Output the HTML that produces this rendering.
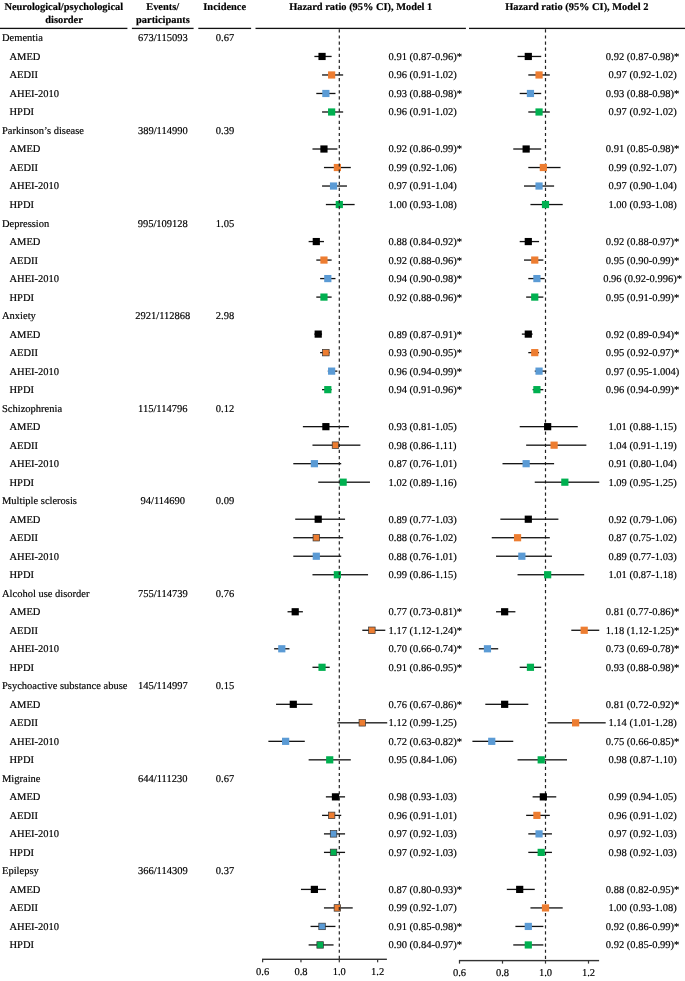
<!DOCTYPE html><html><head><meta charset="utf-8"><style>html,body{margin:0;padding:0;background:#fff;width:685px;height:981px;overflow:hidden;}svg{display:block;will-change:transform}text{font-family:"Liberation Serif",serif;fill:#000;stroke:#000;stroke-width:0.18px;text-rendering:geometricPrecision;}.b{font-weight:bold;}</style></head><body>
<svg width="685" height="981" viewBox="0 0 685 981">
<text x="63.80" y="10.40" font-size="10.4" text-anchor="middle" class="b">Neurological/psychological</text>
<text x="64.00" y="22.80" font-size="10.4" text-anchor="middle" class="b">disorder</text>
<text x="162.70" y="10.30" font-size="10.4" text-anchor="middle" class="b">Events/</text>
<text x="162.90" y="22.80" font-size="10.4" text-anchor="middle" class="b">participants</text>
<text x="224.70" y="10.30" font-size="10.4" text-anchor="middle" class="b">Incidence</text>
<text x="360.70" y="10.30" font-size="10.4" text-anchor="middle" class="b">Hazard ratio (95% CI), Model 1</text>
<text x="576.80" y="10.30" font-size="10.4" text-anchor="middle" class="b">Hazard ratio (95% CI), Model 2</text>
<rect x="0" y="27.75" width="127.40" height="1.3" fill="#111"/>
<rect x="131.9" y="27.75" width="61.70" height="1.3" fill="#111"/>
<rect x="198.3" y="27.75" width="52.80" height="1.3" fill="#111"/>
<rect x="255.5" y="27.75" width="210.40" height="1.3" fill="#111"/>
<rect x="469" y="27.75" width="216.00" height="1.3" fill="#111"/>
<line x1="545.5" y1="29.3" x2="545.5" y2="960.6" stroke="#222" stroke-width="1.2" stroke-dasharray="3.2 2.895"/>
<text x="2.00" y="41.40" font-size="10.5" text-anchor="start">Dementia</text>
<text x="162.80" y="41.40" font-size="10.5" text-anchor="middle">673/115093</text>
<text x="225.00" y="41.40" font-size="10.5" text-anchor="middle">0.67</text>
<text x="9.50" y="59.91" font-size="10.5" text-anchor="start">AMED</text>
<text x="388.60" y="59.91" font-size="10.5" text-anchor="start">0.91 (0.87-0.96)*</text>
<text x="642.60" y="59.91" font-size="10.5" text-anchor="middle">0.92 (0.87-0.98)*</text>
<rect x="314.38" y="55.81" width="17.25" height="1.3" fill="#111"/>
<rect x="318.45" y="52.86" width="7.2" height="7.2" fill="#000000"/>
<rect x="517.55" y="55.81" width="23.65" height="1.3" fill="#111"/>
<rect x="524.70" y="52.86" width="7.2" height="7.2" fill="#000000"/>
<text x="9.50" y="78.42" font-size="10.5" text-anchor="start">AEDII</text>
<text x="388.60" y="78.42" font-size="10.5" text-anchor="start">0.96 (0.91-1.02)</text>
<text x="642.60" y="78.42" font-size="10.5" text-anchor="middle">0.97 (0.92-1.02)</text>
<rect x="322.05" y="74.32" width="21.09" height="1.3" fill="#111"/>
<rect x="328.03" y="71.37" width="7.2" height="7.2" fill="#ED7D31"/>
<rect x="528.30" y="74.32" width="21.50" height="1.3" fill="#111"/>
<rect x="535.45" y="71.37" width="7.2" height="7.2" fill="#ED7D31"/>
<text x="9.50" y="96.93" font-size="10.5" text-anchor="start">AHEI-2010</text>
<text x="388.60" y="96.93" font-size="10.5" text-anchor="start">0.93 (0.88-0.98)*</text>
<text x="642.60" y="96.93" font-size="10.5" text-anchor="middle">0.93 (0.88-0.98)*</text>
<rect x="316.30" y="92.83" width="19.17" height="1.3" fill="#111"/>
<rect x="322.28" y="89.88" width="7.2" height="7.2" fill="#5B9BD5"/>
<rect x="519.70" y="92.83" width="21.50" height="1.3" fill="#111"/>
<rect x="526.85" y="89.88" width="7.2" height="7.2" fill="#5B9BD5"/>
<text x="9.50" y="115.44" font-size="10.5" text-anchor="start">HPDI</text>
<text x="388.60" y="115.44" font-size="10.5" text-anchor="start">0.96 (0.91-1.02)</text>
<text x="642.60" y="115.44" font-size="10.5" text-anchor="middle">0.97 (0.92-1.02)</text>
<rect x="322.05" y="111.34" width="21.09" height="1.3" fill="#111"/>
<rect x="328.03" y="108.39" width="7.2" height="7.2" fill="#00B050"/>
<rect x="528.30" y="111.34" width="21.50" height="1.3" fill="#111"/>
<rect x="535.45" y="108.39" width="7.2" height="7.2" fill="#00B050"/>
<text x="2.00" y="133.95" font-size="10.5" text-anchor="start">Parkinson’s disease</text>
<text x="162.80" y="133.95" font-size="10.5" text-anchor="middle">389/114990</text>
<text x="225.00" y="133.95" font-size="10.5" text-anchor="middle">0.39</text>
<text x="9.50" y="152.46" font-size="10.5" text-anchor="start">AMED</text>
<text x="388.60" y="152.46" font-size="10.5" text-anchor="start">0.92 (0.86-0.99)*</text>
<text x="642.60" y="152.46" font-size="10.5" text-anchor="middle">0.91 (0.85-0.98)*</text>
<rect x="312.46" y="148.36" width="24.92" height="1.3" fill="#111"/>
<rect x="320.36" y="145.41" width="7.2" height="7.2" fill="#000000"/>
<rect x="513.25" y="148.36" width="27.95" height="1.3" fill="#111"/>
<rect x="522.55" y="145.41" width="7.2" height="7.2" fill="#000000"/>
<text x="9.50" y="170.97" font-size="10.5" text-anchor="start">AEDII</text>
<text x="388.60" y="170.97" font-size="10.5" text-anchor="start">0.99 (0.92-1.06)</text>
<text x="642.60" y="170.97" font-size="10.5" text-anchor="middle">0.99 (0.92-1.07)</text>
<rect x="323.96" y="166.87" width="26.84" height="1.3" fill="#111"/>
<rect x="333.78" y="163.92" width="7.2" height="7.2" fill="#ED7D31"/>
<rect x="528.30" y="166.87" width="32.25" height="1.3" fill="#111"/>
<rect x="539.75" y="163.92" width="7.2" height="7.2" fill="#ED7D31"/>
<text x="9.50" y="189.48" font-size="10.5" text-anchor="start">AHEI-2010</text>
<text x="388.60" y="189.48" font-size="10.5" text-anchor="start">0.97 (0.91-1.04)</text>
<text x="642.60" y="189.48" font-size="10.5" text-anchor="middle">0.97 (0.90-1.04)</text>
<rect x="322.05" y="185.38" width="24.92" height="1.3" fill="#111"/>
<rect x="329.95" y="182.43" width="7.2" height="7.2" fill="#5B9BD5"/>
<rect x="524.00" y="185.38" width="30.10" height="1.3" fill="#111"/>
<rect x="535.45" y="182.43" width="7.2" height="7.2" fill="#5B9BD5"/>
<text x="9.50" y="207.99" font-size="10.5" text-anchor="start">HPDI</text>
<text x="388.60" y="207.99" font-size="10.5" text-anchor="start">1.00 (0.93-1.08)</text>
<text x="642.60" y="207.99" font-size="10.5" text-anchor="middle">1.00 (0.93-1.08)</text>
<rect x="325.88" y="203.89" width="28.75" height="1.3" fill="#111"/>
<rect x="335.70" y="200.94" width="7.2" height="7.2" fill="#00B050"/>
<rect x="530.45" y="203.89" width="32.25" height="1.3" fill="#111"/>
<rect x="541.90" y="200.94" width="7.2" height="7.2" fill="#00B050"/>
<text x="2.00" y="226.50" font-size="10.5" text-anchor="start">Depression</text>
<text x="162.80" y="226.50" font-size="10.5" text-anchor="middle">995/109128</text>
<text x="225.00" y="226.50" font-size="10.5" text-anchor="middle">1.05</text>
<text x="9.50" y="245.01" font-size="10.5" text-anchor="start">AMED</text>
<text x="388.60" y="245.01" font-size="10.5" text-anchor="start">0.88 (0.84-0.92)*</text>
<text x="642.60" y="245.01" font-size="10.5" text-anchor="middle">0.92 (0.88-0.97)*</text>
<rect x="308.63" y="240.91" width="15.34" height="1.3" fill="#111"/>
<rect x="312.70" y="237.96" width="7.2" height="7.2" fill="#000000"/>
<rect x="519.70" y="240.91" width="19.35" height="1.3" fill="#111"/>
<rect x="524.70" y="237.96" width="7.2" height="7.2" fill="#000000"/>
<text x="9.50" y="263.52" font-size="10.5" text-anchor="start">AEDII</text>
<text x="388.60" y="263.52" font-size="10.5" text-anchor="start">0.92 (0.88-0.96)*</text>
<text x="642.60" y="263.52" font-size="10.5" text-anchor="middle">0.95 (0.90-0.99)*</text>
<rect x="316.30" y="259.42" width="15.34" height="1.3" fill="#111"/>
<rect x="320.36" y="256.47" width="7.2" height="7.2" fill="#ED7D31"/>
<rect x="524.00" y="259.42" width="19.35" height="1.3" fill="#111"/>
<rect x="531.15" y="256.47" width="7.2" height="7.2" fill="#ED7D31"/>
<text x="9.50" y="282.03" font-size="10.5" text-anchor="start">AHEI-2010</text>
<text x="388.60" y="282.03" font-size="10.5" text-anchor="start">0.94 (0.90-0.98)*</text>
<text x="642.60" y="282.03" font-size="10.5" text-anchor="middle">0.96 (0.92-0.996)*</text>
<rect x="320.13" y="277.93" width="15.34" height="1.3" fill="#111"/>
<rect x="324.20" y="274.98" width="7.2" height="7.2" fill="#5B9BD5"/>
<rect x="528.30" y="277.93" width="16.34" height="1.3" fill="#111"/>
<rect x="533.30" y="274.98" width="7.2" height="7.2" fill="#5B9BD5"/>
<text x="9.50" y="300.54" font-size="10.5" text-anchor="start">HPDI</text>
<text x="388.60" y="300.54" font-size="10.5" text-anchor="start">0.92 (0.88-0.96)*</text>
<text x="642.60" y="300.54" font-size="10.5" text-anchor="middle">0.95 (0.91-0.99)*</text>
<rect x="316.30" y="296.44" width="15.34" height="1.3" fill="#111"/>
<rect x="320.36" y="293.49" width="7.2" height="7.2" fill="#00B050"/>
<rect x="526.15" y="296.44" width="17.20" height="1.3" fill="#111"/>
<rect x="531.15" y="293.49" width="7.2" height="7.2" fill="#00B050"/>
<text x="2.00" y="319.05" font-size="10.5" text-anchor="start">Anxiety</text>
<text x="162.80" y="319.05" font-size="10.5" text-anchor="middle">2921/112868</text>
<text x="225.00" y="319.05" font-size="10.5" text-anchor="middle">2.98</text>
<text x="9.50" y="337.56" font-size="10.5" text-anchor="start">AMED</text>
<text x="388.60" y="337.56" font-size="10.5" text-anchor="start">0.89 (0.87-0.91)*</text>
<text x="642.60" y="337.56" font-size="10.5" text-anchor="middle">0.92 (0.89-0.94)*</text>
<rect x="314.38" y="333.46" width="7.67" height="1.3" fill="#111"/>
<rect x="314.61" y="330.51" width="7.2" height="7.2" fill="#000000"/>
<rect x="521.85" y="333.46" width="10.75" height="1.3" fill="#111"/>
<rect x="524.70" y="330.51" width="7.2" height="7.2" fill="#000000"/>
<text x="9.50" y="356.07" font-size="10.5" text-anchor="start">AEDII</text>
<text x="388.60" y="356.07" font-size="10.5" text-anchor="start">0.93 (0.90-0.95)*</text>
<text x="642.60" y="356.07" font-size="10.5" text-anchor="middle">0.95 (0.92-0.97)*</text>
<rect x="320.13" y="351.97" width="9.59" height="1.3" fill="#111"/>
<rect x="322.63" y="349.37" width="6.50" height="6.50" fill="#ED7D31" stroke="#333" stroke-width="0.7"/>
<rect x="528.30" y="351.97" width="10.75" height="1.3" fill="#111"/>
<rect x="531.15" y="349.02" width="7.2" height="7.2" fill="#ED7D31"/>
<text x="9.50" y="374.58" font-size="10.5" text-anchor="start">AHEI-2010</text>
<text x="388.60" y="374.58" font-size="10.5" text-anchor="start">0.96 (0.94-0.99)*</text>
<text x="642.60" y="374.58" font-size="10.5" text-anchor="middle">0.97 (0.95-1.004)</text>
<rect x="327.80" y="370.48" width="9.59" height="1.3" fill="#111"/>
<rect x="328.03" y="367.53" width="7.2" height="7.2" fill="#5B9BD5"/>
<rect x="534.75" y="370.48" width="11.61" height="1.3" fill="#111"/>
<rect x="535.45" y="367.53" width="7.2" height="7.2" fill="#5B9BD5"/>
<text x="9.50" y="393.09" font-size="10.5" text-anchor="start">HPDI</text>
<text x="388.60" y="393.09" font-size="10.5" text-anchor="start">0.94 (0.91-0.96)*</text>
<text x="642.60" y="393.09" font-size="10.5" text-anchor="middle">0.96 (0.94-0.99)*</text>
<rect x="322.05" y="388.99" width="9.58" height="1.3" fill="#111"/>
<rect x="324.20" y="386.04" width="7.2" height="7.2" fill="#00B050"/>
<rect x="532.60" y="388.99" width="10.75" height="1.3" fill="#111"/>
<rect x="533.30" y="386.04" width="7.2" height="7.2" fill="#00B050"/>
<text x="2.00" y="411.60" font-size="10.5" text-anchor="start">Schizophrenia</text>
<text x="162.80" y="411.60" font-size="10.5" text-anchor="middle">115/114796</text>
<text x="225.00" y="411.60" font-size="10.5" text-anchor="middle">0.12</text>
<text x="9.50" y="430.11" font-size="10.5" text-anchor="start">AMED</text>
<text x="388.60" y="430.11" font-size="10.5" text-anchor="start">0.93 (0.81-1.05)</text>
<text x="642.60" y="430.11" font-size="10.5" text-anchor="middle">1.01 (0.88-1.15)</text>
<rect x="302.88" y="426.01" width="46.01" height="1.3" fill="#111"/>
<rect x="322.28" y="423.06" width="7.2" height="7.2" fill="#000000"/>
<rect x="519.70" y="426.01" width="58.05" height="1.3" fill="#111"/>
<rect x="544.05" y="423.06" width="7.2" height="7.2" fill="#000000"/>
<text x="9.50" y="448.62" font-size="10.5" text-anchor="start">AEDII</text>
<text x="388.60" y="448.62" font-size="10.5" text-anchor="start">0.98 (0.86-1.11)</text>
<text x="642.60" y="448.62" font-size="10.5" text-anchor="middle">1.04 (0.91-1.19)</text>
<rect x="312.46" y="444.52" width="47.93" height="1.3" fill="#111"/>
<rect x="332.22" y="441.92" width="6.50" height="6.50" fill="#ED7D31" stroke="#333" stroke-width="0.7"/>
<rect x="526.15" y="444.52" width="60.20" height="1.3" fill="#111"/>
<rect x="550.50" y="441.57" width="7.2" height="7.2" fill="#ED7D31"/>
<text x="9.50" y="467.13" font-size="10.5" text-anchor="start">AHEI-2010</text>
<text x="388.60" y="467.13" font-size="10.5" text-anchor="start">0.87 (0.76-1.01)</text>
<text x="642.60" y="467.13" font-size="10.5" text-anchor="middle">0.91 (0.80-1.04)</text>
<rect x="293.29" y="463.03" width="47.92" height="1.3" fill="#111"/>
<rect x="310.78" y="460.08" width="7.2" height="7.2" fill="#5B9BD5"/>
<rect x="502.50" y="463.03" width="51.60" height="1.3" fill="#111"/>
<rect x="522.55" y="460.08" width="7.2" height="7.2" fill="#5B9BD5"/>
<text x="9.50" y="485.64" font-size="10.5" text-anchor="start">HPDI</text>
<text x="388.60" y="485.64" font-size="10.5" text-anchor="start">1.02 (0.89-1.16)</text>
<text x="642.60" y="485.64" font-size="10.5" text-anchor="middle">1.09 (0.95-1.25)</text>
<rect x="318.21" y="481.54" width="51.76" height="1.3" fill="#111"/>
<rect x="339.53" y="478.59" width="7.2" height="7.2" fill="#00B050"/>
<rect x="534.75" y="481.54" width="64.50" height="1.3" fill="#111"/>
<rect x="561.25" y="478.59" width="7.2" height="7.2" fill="#00B050"/>
<text x="2.00" y="504.15" font-size="10.5" text-anchor="start">Multiple sclerosis</text>
<text x="162.80" y="504.15" font-size="10.5" text-anchor="middle">94/114690</text>
<text x="225.00" y="504.15" font-size="10.5" text-anchor="middle">0.09</text>
<text x="9.50" y="522.66" font-size="10.5" text-anchor="start">AMED</text>
<text x="388.60" y="522.66" font-size="10.5" text-anchor="start">0.89 (0.77-1.03)</text>
<text x="642.60" y="522.66" font-size="10.5" text-anchor="middle">0.92 (0.79-1.06)</text>
<rect x="295.21" y="518.56" width="49.84" height="1.3" fill="#111"/>
<rect x="314.61" y="515.61" width="7.2" height="7.2" fill="#000000"/>
<rect x="500.35" y="518.56" width="58.05" height="1.3" fill="#111"/>
<rect x="524.70" y="515.61" width="7.2" height="7.2" fill="#000000"/>
<text x="9.50" y="541.17" font-size="10.5" text-anchor="start">AEDII</text>
<text x="388.60" y="541.17" font-size="10.5" text-anchor="start">0.88 (0.76-1.02)</text>
<text x="642.60" y="541.17" font-size="10.5" text-anchor="middle">0.87 (0.75-1.02)</text>
<rect x="293.29" y="537.07" width="49.84" height="1.3" fill="#111"/>
<rect x="313.05" y="534.47" width="6.50" height="6.50" fill="#ED7D31" stroke="#333" stroke-width="0.7"/>
<rect x="491.75" y="537.07" width="58.05" height="1.3" fill="#111"/>
<rect x="513.95" y="534.12" width="7.2" height="7.2" fill="#ED7D31"/>
<text x="9.50" y="559.68" font-size="10.5" text-anchor="start">AHEI-2010</text>
<text x="388.60" y="559.68" font-size="10.5" text-anchor="start">0.88 (0.76-1.01)</text>
<text x="642.60" y="559.68" font-size="10.5" text-anchor="middle">0.89 (0.77-1.03)</text>
<rect x="293.29" y="555.58" width="47.92" height="1.3" fill="#111"/>
<rect x="312.70" y="552.63" width="7.2" height="7.2" fill="#5B9BD5"/>
<rect x="496.05" y="555.58" width="55.90" height="1.3" fill="#111"/>
<rect x="518.25" y="552.63" width="7.2" height="7.2" fill="#5B9BD5"/>
<text x="9.50" y="578.19" font-size="10.5" text-anchor="start">HPDI</text>
<text x="388.60" y="578.19" font-size="10.5" text-anchor="start">0.99 (0.86-1.15)</text>
<text x="642.60" y="578.19" font-size="10.5" text-anchor="middle">1.01 (0.87-1.18)</text>
<rect x="312.46" y="574.09" width="55.59" height="1.3" fill="#111"/>
<rect x="333.78" y="571.14" width="7.2" height="7.2" fill="#00B050"/>
<rect x="517.55" y="574.09" width="66.65" height="1.3" fill="#111"/>
<rect x="544.05" y="571.14" width="7.2" height="7.2" fill="#00B050"/>
<text x="2.00" y="596.70" font-size="10.5" text-anchor="start">Alcohol use disorder</text>
<text x="162.80" y="596.70" font-size="10.5" text-anchor="middle">755/114739</text>
<text x="225.00" y="596.70" font-size="10.5" text-anchor="middle">0.76</text>
<text x="9.50" y="615.21" font-size="10.5" text-anchor="start">AMED</text>
<text x="388.60" y="615.21" font-size="10.5" text-anchor="start">0.77 (0.73-0.81)*</text>
<text x="642.60" y="615.21" font-size="10.5" text-anchor="middle">0.81 (0.77-0.86)*</text>
<rect x="287.54" y="611.11" width="15.34" height="1.3" fill="#111"/>
<rect x="291.61" y="608.16" width="7.2" height="7.2" fill="#000000"/>
<rect x="496.05" y="611.11" width="19.35" height="1.3" fill="#111"/>
<rect x="501.05" y="608.16" width="7.2" height="7.2" fill="#000000"/>
<text x="9.50" y="633.72" font-size="10.5" text-anchor="start">AEDII</text>
<text x="388.60" y="633.72" font-size="10.5" text-anchor="start">1.17 (1.12-1.24)*</text>
<text x="642.60" y="633.72" font-size="10.5" text-anchor="middle">1.18 (1.12-1.25)*</text>
<rect x="362.30" y="629.62" width="23.00" height="1.3" fill="#111"/>
<rect x="368.64" y="627.02" width="6.50" height="6.50" fill="#ED7D31" stroke="#333" stroke-width="0.7"/>
<rect x="571.30" y="629.62" width="27.95" height="1.3" fill="#111"/>
<rect x="580.60" y="626.67" width="7.2" height="7.2" fill="#ED7D31"/>
<text x="9.50" y="652.23" font-size="10.5" text-anchor="start">AHEI-2010</text>
<text x="388.60" y="652.23" font-size="10.5" text-anchor="start">0.70 (0.66-0.74)*</text>
<text x="642.60" y="652.23" font-size="10.5" text-anchor="middle">0.73 (0.69-0.78)*</text>
<rect x="274.12" y="648.13" width="15.34" height="1.3" fill="#111"/>
<rect x="278.19" y="645.18" width="7.2" height="7.2" fill="#5B9BD5"/>
<rect x="478.85" y="648.13" width="19.35" height="1.3" fill="#111"/>
<rect x="483.85" y="645.18" width="7.2" height="7.2" fill="#5B9BD5"/>
<text x="9.50" y="670.74" font-size="10.5" text-anchor="start">HPDI</text>
<text x="388.60" y="670.74" font-size="10.5" text-anchor="start">0.91 (0.86-0.95)*</text>
<text x="642.60" y="670.74" font-size="10.5" text-anchor="middle">0.93 (0.88-0.98)*</text>
<rect x="312.46" y="666.64" width="17.25" height="1.3" fill="#111"/>
<rect x="318.45" y="663.69" width="7.2" height="7.2" fill="#00B050"/>
<rect x="519.70" y="666.64" width="21.50" height="1.3" fill="#111"/>
<rect x="526.85" y="663.69" width="7.2" height="7.2" fill="#00B050"/>
<text x="2.00" y="689.25" font-size="10.5" text-anchor="start">Psychoactive substance abuse</text>
<text x="162.80" y="689.25" font-size="10.5" text-anchor="middle">145/114997</text>
<text x="225.00" y="689.25" font-size="10.5" text-anchor="middle">0.15</text>
<text x="9.50" y="707.76" font-size="10.5" text-anchor="start">AMED</text>
<text x="388.60" y="707.76" font-size="10.5" text-anchor="start">0.76 (0.67-0.86)*</text>
<text x="642.60" y="707.76" font-size="10.5" text-anchor="middle">0.81 (0.72-0.92)*</text>
<rect x="276.04" y="703.66" width="36.42" height="1.3" fill="#111"/>
<rect x="289.69" y="700.71" width="7.2" height="7.2" fill="#000000"/>
<rect x="485.30" y="703.66" width="43.00" height="1.3" fill="#111"/>
<rect x="501.05" y="700.71" width="7.2" height="7.2" fill="#000000"/>
<text x="9.50" y="726.27" font-size="10.5" text-anchor="start">AEDII</text>
<text x="388.60" y="726.27" font-size="10.5" text-anchor="start">1.12 (0.99-1.25)</text>
<text x="642.60" y="726.27" font-size="10.5" text-anchor="middle">1.14 (1.01-1.28)</text>
<rect x="337.38" y="722.17" width="49.84" height="1.3" fill="#111"/>
<rect x="359.05" y="719.57" width="6.50" height="6.50" fill="#ED7D31" stroke="#333" stroke-width="0.7"/>
<rect x="547.65" y="722.17" width="58.05" height="1.3" fill="#111"/>
<rect x="572.00" y="719.22" width="7.2" height="7.2" fill="#ED7D31"/>
<text x="9.50" y="744.78" font-size="10.5" text-anchor="start">AHEI-2010</text>
<text x="388.60" y="744.78" font-size="10.5" text-anchor="start">0.72 (0.63-0.82)*</text>
<text x="642.60" y="744.78" font-size="10.5" text-anchor="middle">0.75 (0.66-0.85)*</text>
<rect x="268.37" y="740.68" width="36.42" height="1.3" fill="#111"/>
<rect x="282.02" y="737.73" width="7.2" height="7.2" fill="#5B9BD5"/>
<rect x="472.40" y="740.68" width="40.85" height="1.3" fill="#111"/>
<rect x="488.15" y="737.73" width="7.2" height="7.2" fill="#5B9BD5"/>
<text x="9.50" y="763.29" font-size="10.5" text-anchor="start">HPDI</text>
<text x="388.60" y="763.29" font-size="10.5" text-anchor="start">0.95 (0.84-1.06)</text>
<text x="642.60" y="763.29" font-size="10.5" text-anchor="middle">0.98 (0.87-1.10)</text>
<rect x="308.63" y="759.19" width="42.17" height="1.3" fill="#111"/>
<rect x="326.12" y="756.24" width="7.2" height="7.2" fill="#00B050"/>
<rect x="517.55" y="759.19" width="49.45" height="1.3" fill="#111"/>
<rect x="537.60" y="756.24" width="7.2" height="7.2" fill="#00B050"/>
<text x="2.00" y="781.80" font-size="10.5" text-anchor="start">Migraine</text>
<text x="162.80" y="781.80" font-size="10.5" text-anchor="middle">644/111230</text>
<text x="225.00" y="781.80" font-size="10.5" text-anchor="middle">0.67</text>
<text x="9.50" y="800.31" font-size="10.5" text-anchor="start">AMED</text>
<text x="388.60" y="800.31" font-size="10.5" text-anchor="start">0.98 (0.93-1.03)</text>
<text x="642.60" y="800.31" font-size="10.5" text-anchor="middle">0.99 (0.94-1.05)</text>
<rect x="325.88" y="796.21" width="19.17" height="1.3" fill="#111"/>
<rect x="331.87" y="793.26" width="7.2" height="7.2" fill="#000000"/>
<rect x="532.60" y="796.21" width="23.65" height="1.3" fill="#111"/>
<rect x="539.75" y="793.26" width="7.2" height="7.2" fill="#000000"/>
<text x="9.50" y="818.82" font-size="10.5" text-anchor="start">AEDII</text>
<text x="388.60" y="818.82" font-size="10.5" text-anchor="start">0.96 (0.91-1.01)</text>
<text x="642.60" y="818.82" font-size="10.5" text-anchor="middle">0.96 (0.91-1.02)</text>
<rect x="322.05" y="814.72" width="19.17" height="1.3" fill="#111"/>
<rect x="328.38" y="812.12" width="6.50" height="6.50" fill="#ED7D31" stroke="#333" stroke-width="0.7"/>
<rect x="526.15" y="814.72" width="23.65" height="1.3" fill="#111"/>
<rect x="533.30" y="811.77" width="7.2" height="7.2" fill="#ED7D31"/>
<text x="9.50" y="837.33" font-size="10.5" text-anchor="start">AHEI-2010</text>
<text x="388.60" y="837.33" font-size="10.5" text-anchor="start">0.97 (0.92-1.03)</text>
<text x="642.60" y="837.33" font-size="10.5" text-anchor="middle">0.97 (0.92-1.03)</text>
<rect x="323.96" y="833.23" width="21.09" height="1.3" fill="#111"/>
<rect x="330.30" y="830.63" width="6.50" height="6.50" fill="#5B9BD5" stroke="#333" stroke-width="0.7"/>
<rect x="528.30" y="833.23" width="23.65" height="1.3" fill="#111"/>
<rect x="535.45" y="830.28" width="7.2" height="7.2" fill="#5B9BD5"/>
<text x="9.50" y="855.84" font-size="10.5" text-anchor="start">HPDI</text>
<text x="388.60" y="855.84" font-size="10.5" text-anchor="start">0.97 (0.92-1.03)</text>
<text x="642.60" y="855.84" font-size="10.5" text-anchor="middle">0.98 (0.92-1.03)</text>
<rect x="323.96" y="851.74" width="21.09" height="1.3" fill="#111"/>
<rect x="330.30" y="849.14" width="6.50" height="6.50" fill="#00B050" stroke="#333" stroke-width="0.7"/>
<rect x="528.30" y="851.74" width="23.65" height="1.3" fill="#111"/>
<rect x="537.60" y="848.79" width="7.2" height="7.2" fill="#00B050"/>
<text x="2.00" y="874.35" font-size="10.5" text-anchor="start">Epilepsy</text>
<text x="162.80" y="874.35" font-size="10.5" text-anchor="middle">366/114309</text>
<text x="225.00" y="874.35" font-size="10.5" text-anchor="middle">0.37</text>
<text x="9.50" y="892.86" font-size="10.5" text-anchor="start">AMED</text>
<text x="388.60" y="892.86" font-size="10.5" text-anchor="start">0.87 (0.80-0.93)*</text>
<text x="642.60" y="892.86" font-size="10.5" text-anchor="middle">0.88 (0.82-0.95)*</text>
<rect x="300.96" y="888.76" width="24.92" height="1.3" fill="#111"/>
<rect x="310.78" y="885.81" width="7.2" height="7.2" fill="#000000"/>
<rect x="506.80" y="888.76" width="27.95" height="1.3" fill="#111"/>
<rect x="516.10" y="885.81" width="7.2" height="7.2" fill="#000000"/>
<text x="9.50" y="911.37" font-size="10.5" text-anchor="start">AEDII</text>
<text x="388.60" y="911.37" font-size="10.5" text-anchor="start">0.99 (0.92-1.07)</text>
<text x="642.60" y="911.37" font-size="10.5" text-anchor="middle">1.00 (0.93-1.08)</text>
<rect x="323.96" y="907.27" width="28.76" height="1.3" fill="#111"/>
<rect x="334.13" y="904.67" width="6.50" height="6.50" fill="#ED7D31" stroke="#333" stroke-width="0.7"/>
<rect x="530.45" y="907.27" width="32.25" height="1.3" fill="#111"/>
<rect x="541.90" y="904.32" width="7.2" height="7.2" fill="#ED7D31"/>
<text x="9.50" y="929.88" font-size="10.5" text-anchor="start">AHEI-2010</text>
<text x="388.60" y="929.88" font-size="10.5" text-anchor="start">0.91 (0.85-0.98)*</text>
<text x="642.60" y="929.88" font-size="10.5" text-anchor="middle">0.92 (0.86-0.99)*</text>
<rect x="310.55" y="925.78" width="24.92" height="1.3" fill="#111"/>
<rect x="318.80" y="923.18" width="6.50" height="6.50" fill="#5B9BD5" stroke="#333" stroke-width="0.7"/>
<rect x="515.40" y="925.78" width="27.95" height="1.3" fill="#111"/>
<rect x="524.70" y="922.83" width="7.2" height="7.2" fill="#5B9BD5"/>
<text x="9.50" y="948.39" font-size="10.5" text-anchor="start">HPDI</text>
<text x="388.60" y="948.39" font-size="10.5" text-anchor="start">0.90 (0.84-0.97)*</text>
<text x="642.60" y="948.39" font-size="10.5" text-anchor="middle">0.92 (0.85-0.99)*</text>
<rect x="308.63" y="944.29" width="24.92" height="1.3" fill="#111"/>
<rect x="316.88" y="941.69" width="6.50" height="6.50" fill="#00B050" stroke="#333" stroke-width="0.7"/>
<rect x="513.25" y="944.29" width="30.10" height="1.3" fill="#111"/>
<rect x="524.70" y="941.34" width="7.2" height="7.2" fill="#00B050"/>
<line x1="339.3" y1="29.3" x2="339.3" y2="959.3" stroke="#222" stroke-width="1.2" stroke-dasharray="3.2 2.895"/>
<rect x="262.02" y="958.60" width="124.88" height="1.4" fill="#333"/>
<rect x="262.02" y="959.30" width="1.2" height="3" fill="#333"/>
<text x="262.62" y="974.80" font-size="10.5" text-anchor="middle">0.6</text>
<rect x="300.36" y="959.30" width="1.2" height="3" fill="#333"/>
<text x="300.96" y="974.80" font-size="10.5" text-anchor="middle">0.8</text>
<rect x="338.70" y="959.30" width="1.2" height="3" fill="#333"/>
<text x="339.30" y="974.80" font-size="10.5" text-anchor="middle">1.0</text>
<rect x="377.04" y="959.30" width="1.2" height="3" fill="#333"/>
<text x="377.64" y="974.80" font-size="10.5" text-anchor="middle">1.2</text>
<rect x="458.90" y="959.90" width="140.20" height="1.4" fill="#333"/>
<rect x="458.90" y="960.60" width="1.2" height="3" fill="#333"/>
<text x="459.50" y="976.10" font-size="10.5" text-anchor="middle">0.6</text>
<rect x="501.90" y="960.60" width="1.2" height="3" fill="#333"/>
<text x="502.50" y="976.10" font-size="10.5" text-anchor="middle">0.8</text>
<rect x="544.90" y="960.60" width="1.2" height="3" fill="#333"/>
<text x="545.50" y="976.10" font-size="10.5" text-anchor="middle">1.0</text>
<rect x="587.90" y="960.60" width="1.2" height="3" fill="#333"/>
<text x="588.50" y="976.10" font-size="10.5" text-anchor="middle">1.2</text>
</svg></body></html>
